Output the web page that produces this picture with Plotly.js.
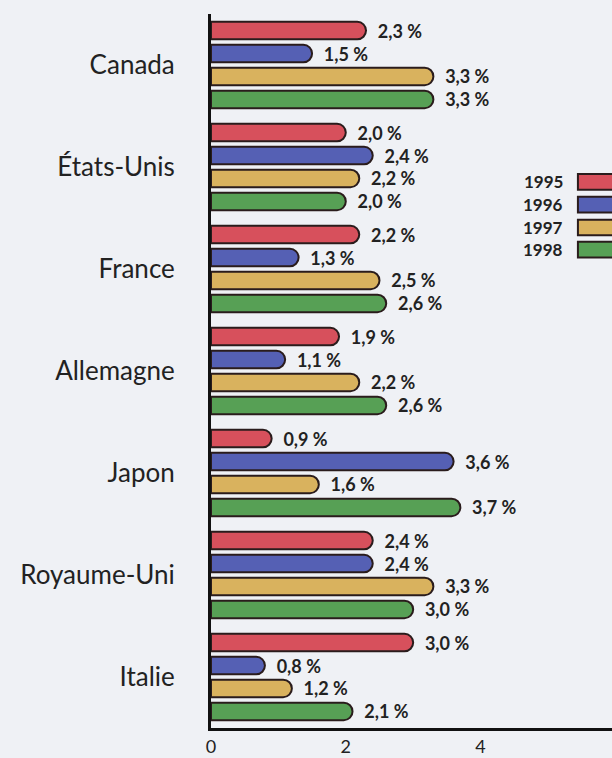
<!DOCTYPE html>
<html><head><meta charset="utf-8">
<script src="https://cdn.plot.ly/plotly-3.0.1.min.js"></script>
<style>html,body{margin:0;padding:0;background:#eff1f5;}#chart{width:612px;height:758px;}</style>
</head><body><div id="chart"></div>
<script>
const countries = ["Canada", "États-Unis", "France", "Allemagne", "Japon", "Royaume-Uni", "Italie"];
const years = ["1995", "1996", "1997", "1998"];
const v1995 = [2.3, 2.0, 2.2, 1.9, 0.9, 2.4, 3.0];
const v1996 = [1.5, 2.4, 1.3, 1.1, 3.6, 2.4, 0.8];
const v1997 = [3.3, 2.2, 2.5, 2.2, 1.6, 3.3, 1.2];
const v1998 = [3.3, 2.0, 2.6, 2.6, 3.7, 3.0, 2.1];
const xTicks = [0, 2, 4];

const series = [v1995, v1996, v1997, v1998];
const colors = ["#d7505c", "#5560b4", "#d9b25e", "#57a055"];
const fmt = v => '\u00a0\u00a0' + v.toFixed(1).replace('.', ',') + ' %';

const traces = series.map((vals, i) => ({
  type: 'bar', orientation: 'h', name: years[i],
  y: countries, x: vals,
  text: vals.map(fmt), textposition: 'outside', cliponaxis: false, constraintext: 'none',
  textfont: {family: 'Lato, sans-serif', size: 18, color: '#222', weight: 'bold'},
  marker: {color: colors[i], line: {color: '#2a1c1c', width: 2}, cornerradius: 9},
  hoverinfo: 'none', showlegend: false
}));

const shapes = [], annotations = [];
const legY = [0.765, 0.733, 0.701, 0.670];
years.forEach((yr, i) => {
  annotations.push({xref: 'paper', yref: 'paper', x: 0.882, y: legY[i], xanchor: 'right', yanchor: 'middle',
    text: '<b>' + yr + '</b>', showarrow: false, font: {family: 'Lato, sans-serif', size: 17, color: '#222'}});
  shapes.push({type: 'rect', xref: 'paper', yref: 'paper', x0: 0.915, x1: 1.01, y0: legY[i] - 0.011, y1: legY[i] + 0.011,
    fillcolor: colors[i], line: {color: '#2a1c1c', width: 2}});
});

const layout = {
  width: 612, height: 758,
  margin: {l: 211, r: 0, t: 14, b: 30},
  paper_bgcolor: '#eff1f5', plot_bgcolor: '#eff1f5',
  barmode: 'group', bargap: 0.1, bargroupgap: 0.24,
  font: {family: 'Lato, sans-serif', color: '#222'},
  xaxis: {range: [0, 5.95], tickvals: xTicks, ticktext: xTicks.map(String), showgrid: false, zeroline: false,
    showline: true, linecolor: '#111', linewidth: 3, ticks: '', tickfont: {size: 18, color: '#222'}, fixedrange: true},
  yaxis: {autorange: 'reversed', showgrid: false, zeroline: false, showline: true, linecolor: '#111', linewidth: 3,
    ticks: '', ticklabelstandoff: 28, tickfont: {size: 26, color: '#222'}, fixedrange: true},
  shapes: shapes, annotations: annotations
};
Plotly.newPlot('chart', traces, layout, {displayModeBar: false, staticPlot: true});
</script></body></html>
